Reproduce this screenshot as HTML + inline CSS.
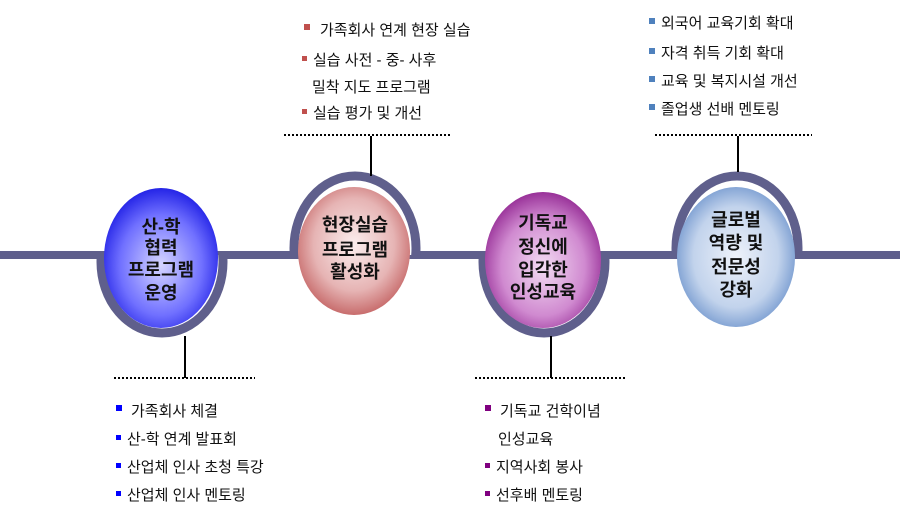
<!DOCTYPE html>
<html><head><meta charset="utf-8"><style>
html,body{margin:0;padding:0;background:#fff;}
svg{display:block;}
text{font-family:"Liberation Sans","Noto Sans CJK KR",sans-serif;}
.t{font-size:15px;fill:#111;}
.n{font-size:18px;font-weight:bold;fill:#111;text-anchor:middle;}
</style></head><body>
<svg width="900" height="516" viewBox="0 0 900 516" xmlns="http://www.w3.org/2000/svg">
<defs>
<radialGradient id="g1" cx="50%" cy="55%" r="60%"><stop offset="0" stop-color="#d6d6ff"/><stop offset="0.6" stop-color="#7070ff"/><stop offset="1" stop-color="#1010e0"/></radialGradient>
<radialGradient id="g2" cx="50%" cy="45%" r="60%"><stop offset="0" stop-color="#fbeeee"/><stop offset="0.6" stop-color="#e6b4b4"/><stop offset="1" stop-color="#c05a5a"/></radialGradient>
<radialGradient id="g3" cx="50%" cy="55%" r="60%"><stop offset="0" stop-color="#f3dcf3"/><stop offset="0.6" stop-color="#d08ad0"/><stop offset="1" stop-color="#8a1a8a"/></radialGradient>
<radialGradient id="g4" cx="50%" cy="50%" r="60%"><stop offset="0" stop-color="#eef2fa"/><stop offset="0.6" stop-color="#c2d3ec"/><stop offset="1" stop-color="#5a85c5"/></radialGradient>
<clipPath id="below"><rect x="0" y="255" width="900" height="200"/></clipPath>
<clipPath id="above"><rect x="0" y="100" width="900" height="155"/></clipPath>
</defs>
<!-- main line -->
<rect x="0" y="251" width="900" height="8" fill="#5f5f8c"/>
<!-- node backgrounds clearing line inside -->
<ellipse cx="162" cy="262" rx="62" ry="72" fill="#fff" clip-path="url(#below)"/>
<ellipse cx="355" cy="248" rx="62" ry="72" fill="#fff" clip-path="url(#above)"/>
<ellipse cx="544" cy="262" rx="62" ry="72" fill="#fff" clip-path="url(#below)"/>
<ellipse cx="737" cy="248" rx="62" ry="72" fill="#fff" clip-path="url(#above)"/>
<!-- arcs -->
<ellipse cx="162" cy="262" rx="61" ry="71" fill="none" stroke="#5f5f8c" stroke-width="9" clip-path="url(#below)"/>
<ellipse cx="355" cy="248" rx="61" ry="72" fill="none" stroke="#5f5f8c" stroke-width="9" clip-path="url(#above)"/>
<ellipse cx="544" cy="262" rx="61" ry="71" fill="none" stroke="#5f5f8c" stroke-width="9" clip-path="url(#below)"/>
<ellipse cx="737" cy="248" rx="61" ry="72" fill="none" stroke="#5f5f8c" stroke-width="9" clip-path="url(#above)"/>
<!-- ellipses -->
<ellipse cx="161" cy="258" rx="57" ry="70" fill="url(#g1)"/>
<ellipse cx="354" cy="251" rx="56" ry="64" fill="url(#g2)"/>
<ellipse cx="543" cy="260" rx="58" ry="68" fill="url(#g3)"/>
<ellipse cx="736" cy="257" rx="59" ry="70" fill="url(#g4)"/>
<!-- node text -->
<text class="n" x="161" y="233">산-학</text>
<text class="n" x="161" y="254">협력</text>
<text class="n" x="161" y="276">프로그램</text>
<text class="n" x="161" y="299">운영</text>
<text class="n" x="355" y="231">현장실습</text>
<text class="n" x="355" y="256">프로그램</text>
<text class="n" x="355" y="278">활성화</text>
<text class="n" x="543" y="229">기독교</text>
<text class="n" x="543" y="253">정신에</text>
<text class="n" x="543" y="276">입각한</text>
<text class="n" x="543" y="298">인성교육</text>
<text class="n" x="736" y="226">글로벌</text>
<text class="n" x="736" y="249">역량 및</text>
<text class="n" x="736" y="273">전문성</text>
<text class="n" x="736" y="296">강화</text>
<!-- connectors -->
<line x1="185" y1="336" x2="185" y2="378" stroke="#000" stroke-width="2"/>
<line x1="114" y1="378" x2="255" y2="378" stroke="#000" stroke-width="2" stroke-dasharray="2,2"/>
<line x1="371" y1="136" x2="371" y2="176" stroke="#000" stroke-width="2"/>
<line x1="284" y1="135" x2="452" y2="135" stroke="#000" stroke-width="2" stroke-dasharray="2,2"/>
<line x1="551" y1="336" x2="551" y2="378" stroke="#000" stroke-width="2"/>
<line x1="475" y1="378" x2="625" y2="378" stroke="#000" stroke-width="2" stroke-dasharray="2,2"/>
<line x1="738" y1="136" x2="738" y2="172" stroke="#000" stroke-width="2"/>
<line x1="655" y1="135" x2="812" y2="135" stroke="#000" stroke-width="2" stroke-dasharray="2,2"/>
<!-- top middle list -->
<g fill="#c0504d">
<rect x="304" y="24" width="6" height="6"/><rect x="302" y="56" width="5" height="5"/><rect x="302" y="109" width="5" height="5"/>
</g>
<text class="t" x="320" y="35">가족회사 연계 현장 실습</text>
<text class="t" x="313" y="65">실습 사전 - 중- 사후</text>
<text class="t" x="312" y="92">밀착 지도 프로그램</text>
<text class="t" x="313" y="118">실습 평가 및 개선</text>
<!-- top right list -->
<g fill="#4f81bd">
<rect x="649" y="18" width="6" height="6"/><rect x="649" y="48" width="6" height="6"/><rect x="649" y="76" width="6" height="6"/><rect x="649" y="104" width="6" height="6"/>
</g>
<text class="t" x="661" y="28">외국어 교육기회 확대</text>
<text class="t" x="661" y="58">자격 취득 기회 확대</text>
<text class="t" x="661" y="86">교육 및 복지시설 개선</text>
<text class="t" x="661" y="114">졸업생 선배 멘토링</text>
<!-- bottom left list -->
<g fill="#0000ff">
<rect x="116" y="405" width="6" height="6"/><rect x="116" y="435" width="5" height="5"/><rect x="116" y="463" width="5" height="5"/><rect x="116" y="491" width="5" height="5"/>
</g>
<text class="t" x="131" y="416">가족회사 체결</text>
<text class="t" x="127" y="444">산-학 연계 발표회</text>
<text class="t" x="127" y="472">산업체 인사 초청 특강</text>
<text class="t" x="127" y="500">산업체 인사 멘토링</text>
<!-- bottom right list -->
<g fill="#800080">
<rect x="485" y="405" width="6" height="6"/><rect x="485" y="463" width="5" height="5"/><rect x="485" y="491" width="5" height="5"/>
</g>
<text class="t" x="500" y="416">기독교 건학이념</text>
<text class="t" x="498" y="444">인성교육</text>
<text class="t" x="496" y="472">지역사회 봉사</text>
<text class="t" x="496" y="500">선후배 멘토링</text>
</svg>
</body></html>
